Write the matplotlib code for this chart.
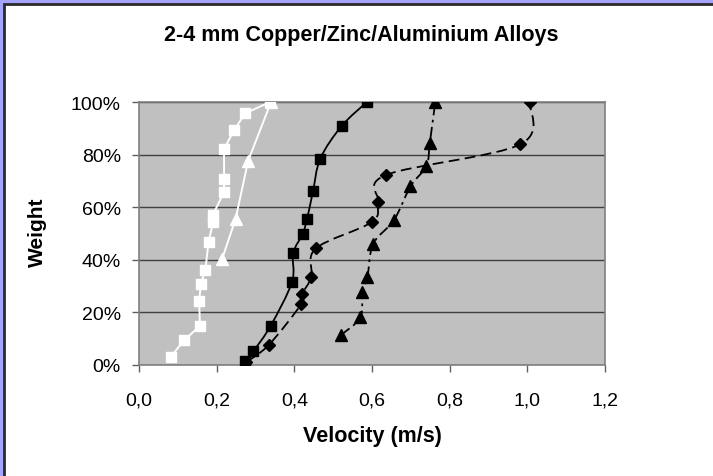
import matplotlib.pyplot as plt
from matplotlib.patches import Rectangle, PathPatch
from matplotlib.path import Path
from matplotlib.ticker import FuncFormatter

# ----------------------------------------------------------------------
# Data (velocity in m/s, cumulative weight fraction)
# ----------------------------------------------------------------------
white_sq_v = [0.082, 0.117, 0.157, 0.155, 0.159, 0.171, 0.179, 0.191, 0.190,
              0.219, 0.219, 0.219, 0.244, 0.274, 0.337]
white_sq_w = [0.032, 0.095, 0.149, 0.242, 0.308, 0.361, 0.468, 0.544, 0.570,
              0.658, 0.709, 0.820, 0.892, 0.957, 1.000]

white_tri_v = [0.214, 0.249, 0.281, 0.340]
white_tri_w = [0.403, 0.557, 0.776, 1.000]

black_sq_v = [0.273, 0.294, 0.339, 0.394, 0.397, 0.422, 0.433, 0.448, 0.467,
              0.522, 0.587]
black_sq_w = [0.016, 0.052, 0.149, 0.316, 0.425, 0.500, 0.557, 0.660, 0.785,
              0.909, 1.000]

black_dia_v = [0.275, 0.334, 0.418, 0.420, 0.444, 0.455, 0.600, 0.616, 0.637,
               0.982, 1.006]
black_dia_w = [0.010, 0.076, 0.232, 0.270, 0.335, 0.443, 0.544, 0.620, 0.723,
               0.839, 1.000]

black_tri_v = [0.520, 0.570, 0.575, 0.588, 0.603, 0.657, 0.699, 0.740, 0.749,
               0.763]
black_tri_w = [0.114, 0.181, 0.276, 0.333, 0.460, 0.552, 0.679, 0.757, 0.846,
               1.000]

x_ticks = [0.0, 0.2, 0.4, 0.6, 0.8, 1.0, 1.2]
y_ticks = [0.0, 0.2, 0.4, 0.6, 0.8, 1.0]

title = '2-4 mm Copper/Zinc/Aluminium Alloys'
x_label = 'Velocity (m/s)'
y_label = 'Weight'


# Excel style smoothed line: Catmull-Rom as cubic Bezier segments
def smooth_path(xs, ys):
    pts = list(zip(xs, ys))
    verts = [pts[0]]
    codes = [Path.MOVETO]
    n = len(pts)
    for i in range(n - 1):
        p0 = pts[i - 1] if i > 0 else pts[i]
        p1 = pts[i]
        p2 = pts[i + 1]
        p3 = pts[i + 2] if i + 2 < n else pts[i + 1]
        c1 = (p1[0] + (p2[0] - p0[0]) / 6, p1[1] + (p2[1] - p0[1]) / 6)
        c2 = (p2[0] - (p3[0] - p1[0]) / 6, p2[1] - (p3[1] - p1[1]) / 6)
        verts += [c1, c2, p2]
        codes += [Path.CURVE4] * 3
    return Path(verts, codes)


plt.rcParams['font.family'] = ['Liberation Sans', 'DejaVu Sans']

W, H = 713, 477
fig = plt.figure(figsize=(W / 100, H / 100), dpi=100)
fig.patch.set_facecolor('#a4a4fc')
fig.patches.append(Rectangle((4 / W, -0.1), 1.2, 1.1 - 5 / H,
                             transform=fig.transFigure, facecolor='white',
                             edgecolor='#2a2a2a', linewidth=2, zorder=-5))

ax = fig.add_axes([139 / W, 1 - 366 / H, 466 / W, 263 / H])
ax.set_facecolor('#c0c0c0')
ax.set_xlim(0, 1.2)
ax.set_ylim(0, 1.0)
ax.set_xticks(x_ticks)
ax.set_yticks(y_ticks)
ax.xaxis.set_major_formatter(FuncFormatter(lambda v, p: ('%.1f' % v).replace('.', ',')))
ax.yaxis.set_major_formatter(FuncFormatter(lambda v, p: '%d%%' % round(v * 100)))
ax.tick_params(direction='out', length=5, width=1, color='#606060',
               labelsize=14)
ax.tick_params(axis='x', pad=14)
ax.tick_params(axis='y', pad=8)
for s in ax.spines.values():
    s.set_color('#808080')
    s.set_linewidth(1.2)
ax.grid(axis='y', color='#404040', linewidth=1)
ax.set_axisbelow(True)

# white squares, straight segments
ax.plot(white_sq_v, white_sq_w, color='white', linewidth=1.4, marker='s',
        markersize=7, markerfacecolor='white', markeredgecolor='white',
        zorder=3)
# white triangles
ax.plot(white_tri_v, white_tri_w, color='white', linewidth=1.4, marker='^',
        markersize=8, markerfacecolor='white', markeredgecolor='white',
        zorder=3)

# black series with smoothed lines
ax.add_patch(PathPatch(smooth_path(black_sq_v, black_sq_w), fill=False,
                       edgecolor='black', linewidth=1.3, zorder=3))
ax.plot(black_sq_v, black_sq_w, linestyle='none', marker='s', markersize=7,
        color='black', zorder=4)

ax.add_patch(PathPatch(smooth_path(black_dia_v, black_dia_w), fill=False,
                       edgecolor='black', linewidth=1.3, linestyle=(0, (6, 3)),
                       zorder=3))
ax.plot(black_dia_v, black_dia_w, linestyle='none', marker='D', markersize=6.5,
        color='black', zorder=4)

ax.add_patch(PathPatch(smooth_path(black_tri_v, black_tri_w), fill=False,
                       edgecolor='black', linewidth=1.3,
                       linestyle=(0, (6, 2.5, 1.5, 2.5)), zorder=3))
ax.plot(black_tri_v, black_tri_w, linestyle='none', marker='^', markersize=8,
        color='black', zorder=4)

fig.text(361 / W, 1 - 35 / H, title, ha='center', va='center',
         fontsize=15.5, fontweight='bold')
fig.text(372 / W, 1 - 437 / H, x_label, ha='center', va='center',
         fontsize=15.5, fontweight='bold')
fig.text(37 / W, 1 - 232 / H, y_label, ha='center', va='center',
         rotation=90, fontsize=15, fontweight='bold')

fig.savefig('out.png', dpi=100, facecolor=fig.get_facecolor())
